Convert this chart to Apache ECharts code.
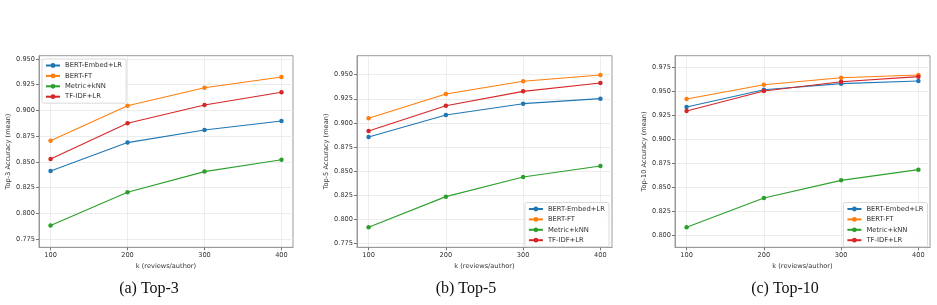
<!DOCTYPE html>
<html>
<head>
<meta charset="utf-8">
<script src="https://cdn.jsdelivr.net/npm/echarts@6/dist/echarts.min.js"></script>
<style>html,body{margin:0;padding:0;background:#fff;}#c{width:937px;height:305px;}</style>
</head>
<body>
<div id="c"></div>
<script>
// ---- data ----
const kValues = [100, 200, 300, 400];
const xTicks = [100, 200, 300, 400];
const methods = ['BERT-Embed+LR', 'BERT-FT', 'Metric+kNN', 'TF-IDF+LR'];

const top3_bertEmbed = [0.841, 0.8687, 0.881, 0.8897];
const top3_bertFT    = [0.8706, 0.9046, 0.9221, 0.9325];
const top3_metric    = [0.788, 0.8204, 0.8405, 0.8521];
const top3_tfidf     = [0.8528, 0.8875, 0.9053, 0.9176];

const top5_bertEmbed = [0.8853, 0.9082, 0.9199, 0.9251];
const top5_bertFT    = [0.9047, 0.9299, 0.9431, 0.9497];
const top5_metric    = [0.7916, 0.8234, 0.8438, 0.8552];
const top5_tfidf     = [0.8916, 0.9178, 0.9327, 0.9414];

const top10_bertEmbed = [0.9336, 0.9517, 0.958, 0.9607];
const top10_bertFT    = [0.9419, 0.9569, 0.9642, 0.967];
const top10_metric    = [0.808, 0.8386, 0.857, 0.8682];
const top10_tfidf     = [0.9294, 0.9503, 0.960, 0.9653];

const yTicks3  = [0.775, 0.800, 0.825, 0.850, 0.875, 0.900, 0.925, 0.950];
const yTicks5  = [0.775, 0.800, 0.825, 0.850, 0.875, 0.900, 0.925, 0.950];
const yTicks10 = [0.800, 0.825, 0.850, 0.875, 0.900, 0.925, 0.950, 0.975];

const yNames = ['Top-3 Accuracy (mean)', 'Top-5 Accuracy (mean)', 'Top-10 Accuracy (mean)'];
const captions = ['(a) Top-3', '(b) Top-5', '(c) Top-10'];
const xName = 'k (reviews/author)';

// ---- layout / style ----
const colors = ['#1f77b4', '#ff7f0e', '#2ca02c', '#d62728'];
const panelData = [
  [top3_bertEmbed, top3_bertFT, top3_metric, top3_tfidf],
  [top5_bertEmbed, top5_bertFT, top5_metric, top5_tfidf],
  [top10_bertEmbed, top10_bertFT, top10_metric, top10_tfidf]
];
const yTickSets = [yTicks3, yTicks5, yTicks10];
const yRanges = [[0.7669, 0.9532], [0.7708, 0.9697], [0.7871, 0.9872]];
const gridLefts = [39, 357, 675];
const gridWidths = [254, 255, 255];
const legendPos = [{left: 42, top: 59}, {right: 328, top: 202.5}, {right: 9.5, top: 202.5}];
const captionX = [149, 466, 785];
const font = 'DejaVu Sans';
const fs = 6.6;

const grids = [], xAxes = [], yAxes = [], series = [], legends = [];
for (let p = 0; p < 3; p++) {
  grids.push({left: gridLefts[p], top: 55.7, width: gridWidths[p], height: 191.6, show: true,
    borderColor: '#9a9a9a', borderWidth: 1, backgroundColor: 'transparent'});
  xAxes.push({
    type: 'value', gridIndex: p, min: 85, max: 415,
    name: xName, nameLocation: 'middle', nameGap: 11,
    nameTextStyle: {fontFamily: font, fontSize: fs, color: '#333'},
    axisLine: {show: true, onZero: false, lineStyle: {color: '#9a9a9a', width: 1}},
    axisTick: {show: true, length: 3, inside: false, customValues: xTicks, lineStyle: {color: '#777'}},
    axisLabel: {customValues: xTicks, margin: 4, fontFamily: font, fontSize: fs, color: '#333'},
    splitLine: {show: true, lineStyle: {color: '#e8e8e8', width: 0.8}}
  });
  yAxes.push({
    type: 'value', gridIndex: p, min: yRanges[p][0], max: yRanges[p][1],
    name: yNames[p], nameLocation: 'middle', nameGap: 25, nameRotate: 90,
    nameTextStyle: {fontFamily: font, fontSize: fs, color: '#333'},
    axisLine: {show: true, onZero: false, lineStyle: {color: '#9a9a9a', width: 1}},
    axisTick: {show: true, length: 3, inside: false, customValues: yTickSets[p], lineStyle: {color: '#777'}},
    axisLabel: {customValues: yTickSets[p], margin: 4, fontFamily: font, fontSize: fs, color: '#333',
      formatter: v => v.toFixed(3)},
    splitLine: {show: true, lineStyle: {color: '#e8e8e8', width: 0.8}}
  });
  for (let m = 0; m < 4; m++) {
    series.push({
      type: 'line', name: methods[m], xAxisIndex: p, yAxisIndex: p,
      data: kValues.map((k, i) => [k, panelData[p][m][i]]),
      symbol: 'circle', symbolSize: 4.5, showSymbol: true,
      lineStyle: {color: colors[m], width: 1.1},
      itemStyle: {color: colors[m]},
      color: colors[m], animation: false, z: 2 + m
    });
  }
  legends.push(Object.assign({
    data: methods, orient: 'vertical',
    itemWidth: 14, itemHeight: 6, itemGap: 3.4, padding: [3, 4, 3, 3],
    borderColor: '#d0d0d0', borderWidth: 0.8, borderRadius: 2, backgroundColor: 'rgba(255,255,255,0.85)',
    textStyle: {fontFamily: font, fontSize: 6.8, color: '#333', padding: [0, 0, 0, 0]},
    selectedMode: false
  }, legendPos[p]));
}

const chart = echarts.init(document.getElementById('c'), null, {renderer: 'canvas'});
chart.setOption({
  animation: false,
  color: colors,
  grid: grids, xAxis: xAxes, yAxis: yAxes, series: series, legend: legends,
  graphic: captions.map((c, p) => ({
    type: 'text', x: captionX[p], y: 289,
    style: {text: c, fontFamily: 'Liberation Serif', fontSize: 16, fill: '#111',
      align: 'center', verticalAlign: 'middle'}
  }))
});
</script>
</body>
</html>
